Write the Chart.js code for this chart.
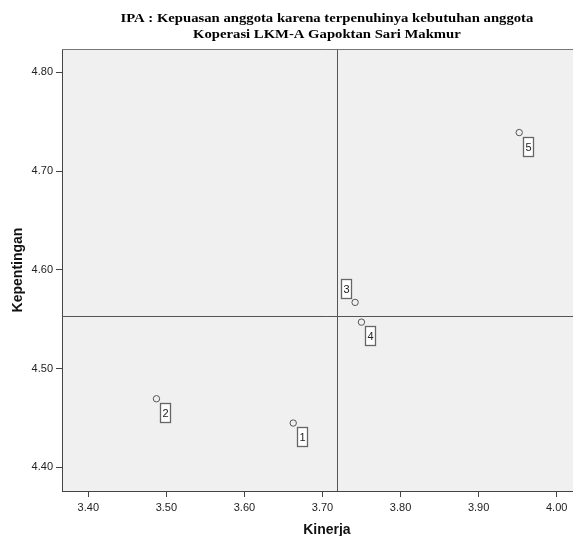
<!DOCTYPE html>
<html><head><meta charset="utf-8">
<script src="https://cdn.jsdelivr.net/npm/chart.js@4.4.1/dist/chart.umd.min.js"></script>
<style>
html,body{margin:0;padding:0;background:#fff;overflow:hidden;}
#wrap{width:573px;height:536px;overflow:hidden;position:relative;}
canvas{display:block;}
</style></head><body>
<div id="wrap"><canvas id="c" width="596" height="536" style="width:596px;height:536px"></canvas></div>
<script>
const titleLines = ['IPA : Kepuasan anggota karena terpenuhinya kebutuhan anggota', 'Koperasi LKM-A Gapoktan Sari Makmur'];
const pointLabels = ['1', '2', '3', '4', '5'];
const kinerja = [3.6625, 3.4873, 3.7418, 3.7499, 3.9520];
const kepentingan = [4.4448, 4.4694, 4.5670, 4.5470, 4.7390];
const xTicks = [3.40, 3.50, 3.60, 3.70, 3.80, 3.90, 4.00];
const yTicks = [4.40, 4.50, 4.60, 4.70, 4.80];
const xRange = [3.3663, 4.045];
const yRange = [4.376, 4.8236];
const xTitle = 'Kinerja';
const yTitle = 'Kepentingan';

const meanX = kinerja.reduce((a, b) => a + b, 0) / kinerja.length;
const meanY = kepentingan.reduce((a, b) => a + b, 0) / kepentingan.length;

const bgPlugin = {
  id: 'bgPlugin',
  beforeDraw(chart) {
    const {ctx, chartArea: a} = chart;
    ctx.save();
    ctx.fillStyle = '#f0f0f0';
    ctx.fillRect(a.left, a.top, a.right - a.left, a.bottom - a.top);
    ctx.restore();
  },
  beforeDatasetsDraw(chart) {
    const {ctx, chartArea: a, scales} = chart;
    const px = Math.round(scales.x.getPixelForValue(meanX)) + 0.5;
    const py = Math.round(scales.y.getPixelForValue(meanY)) + 0.5;
    ctx.save();
    ctx.strokeStyle = '#555';
    ctx.lineWidth = 1;
    ctx.beginPath();
    ctx.moveTo(px, a.top); ctx.lineTo(px, a.bottom);
    ctx.moveTo(a.left, py); ctx.lineTo(a.right, py);
    ctx.stroke();
    ctx.restore();
  },
  afterDatasetsDraw(chart, args, opts) {
    const {ctx} = chart;
    const meta = chart.getDatasetMeta(0);
    ctx.save();
    ctx.font = '11px "Liberation Sans", Arial, sans-serif';
    ctx.textAlign = 'center';
    ctx.textBaseline = 'middle';
    meta.data.forEach((el, i) => {
      const lab = pointLabels[i];
      const off = opts.offsets[lab] || opts.offsets.default;
      const bx = Math.round(el.x + off[0]) + 0.5;
      const by = Math.round(el.y + off[1]) + 0.5;
      const w = 10, h = 19;
      ctx.fillStyle = '#fff';
      ctx.fillRect(bx, by, w, h);
      ctx.strokeStyle = '#666';
      ctx.lineWidth = 1.3;
      ctx.strokeRect(bx, by, w, h);
      ctx.fillStyle = '#222';
      ctx.fillText(lab, bx + w / 2, by + h / 2 + 0.5);
    });
    ctx.restore();
  },
  afterDraw(chart) {
    const {ctx, chartArea: a} = chart;
    ctx.save();
    ctx.strokeStyle = '#777';
    ctx.lineWidth = 1;
    ctx.beginPath();
    ctx.moveTo(a.left, a.top + 0.5); ctx.lineTo(a.right, a.top + 0.5);
    ctx.moveTo(a.right - 0.5, a.top); ctx.lineTo(a.right - 0.5, a.bottom);
    ctx.stroke();
    ctx.fillStyle = '#000';
    ctx.font = 'bold 13px "Liberation Serif", "Times New Roman", serif';
    ctx.textAlign = 'center';
    ctx.textBaseline = 'alphabetic';
    const cx = (a.left + a.right) / 2;
    [[titleLines[0], 22], [titleLines[1], 37.5]].forEach(([t, y]) => {
      ctx.save();
      ctx.translate(cx, y);
      ctx.scale(1.13, 1);
      ctx.fillText(t, 0, 0);
      ctx.restore();
    });
    ctx.restore();
  }
};

const tickFont = {family: '"Liberation Sans", Arial, sans-serif', size: 11};
const titleFont = {family: '"Liberation Sans", Arial, sans-serif', size: 14, weight: 'bold', lineHeight: 0.857};

new Chart(document.getElementById('c'), {
  type: 'scatter',
  data: {
    datasets: [{
      data: kinerja.map((x, i) => ({x: x, y: kepentingan[i]})),
      pointRadius: 3.2,
      pointHoverRadius: 3.2,
      pointBackgroundColor: 'rgba(0,0,0,0)',
      pointBorderColor: '#555',
      pointBorderWidth: 1
    }]
  },
  options: {
    responsive: false,
    animation: false,
    events: [],
    layout: {padding: {top: 49, right: 4, left: 0, bottom: 0}},
    plugins: {
      legend: {display: false},
      tooltip: {enabled: false},
      bgPlugin: {offsets: {default: [4, 4], '3': [-14, -23]}}
    },
    scales: {
      x: {
        type: 'linear', min: xRange[0], max: xRange[1],
        afterBuildTicks: s => { s.ticks = xTicks.map(v => ({value: v})); },
        afterFit: s => { s.height = 45; },
        ticks: {callback: v => Number(v).toFixed(2), font: tickFont, color: '#222', padding: 4, maxRotation: 0, autoSkip: false},
        grid: {display: true, drawOnChartArea: false, drawTicks: true, tickLength: 6, tickColor: '#444', tickWidth: 1},
        border: {display: true, color: '#444', width: 1},
        title: {display: true, text: xTitle, font: titleFont, color: '#111', padding: 0}
      },
      y: {
        type: 'linear', min: yRange[0], max: yRange[1],
        afterBuildTicks: s => { s.ticks = yTicks.map(v => ({value: v})); },
        afterFit: s => { s.width = 62; },
        ticks: {callback: v => Number(v).toFixed(2), font: tickFont, color: '#222', padding: 3, autoSkip: false},
        grid: {display: true, drawOnChartArea: false, drawTicks: true, tickLength: 6, tickColor: '#444', tickWidth: 1},
        border: {display: true, color: '#444', width: 1},
        title: {display: true, text: yTitle, font: {family: '"Liberation Sans", Arial, sans-serif', size: 14, weight: 'bold', lineHeight: 1.2}, color: '#111', padding: {top: 10, bottom: 0}}
      }
    }
  },
  plugins: [bgPlugin]
});
</script>
</body></html>
